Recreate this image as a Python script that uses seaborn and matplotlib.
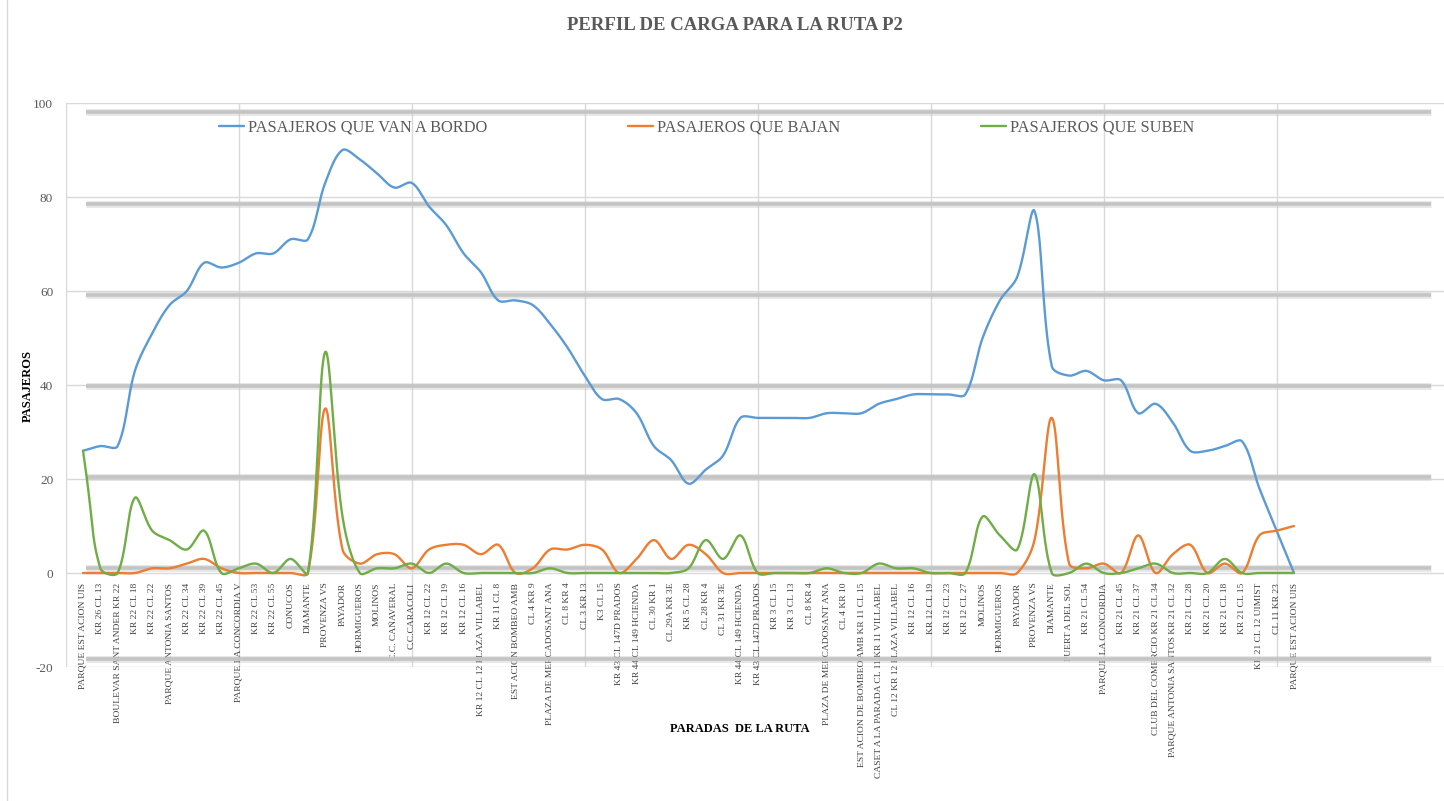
import numpy as np
import pandas as pd
import matplotlib
matplotlib.use("Agg")
import matplotlib.pyplot as plt
from matplotlib.lines import Line2D
import seaborn as sns

# Stops of route P2, in travel order
paradas = [
    "PARQUE EST ACION UIS", "KR 26 CL 13", "BOULEVAR SANT ANDER KR 22", "KR 22 CL 18",
    "KR 22 CL 22", "PARQUE ANTONIA SANTOS", "KR 22 CL 34", "KR 22 CL 39", "KR 22 CL 45",
    "PARQUE LA CONCORDIA V", "KR 22 CL 53", "KR 22 CL 55", "CONUCOS", "DIAMANTE",
    "PROVENZA VS", "PAYADOR", "HORMIGUEROS", "MOLINOS", "C.C. CAÑAVERAL", "C.C.CARACOLI",
    "KR 12 CL 22", "KR 12 CL 19", "KR 12 CL 16", "KR 12 CL 12 PLAZA VILLABEL", "KR 11 CL 8",
    "EST ACION BOMBEO AMB", "CL 4 KR 9", "PLAZA DE MERCADOSANT ANA", "CL 8 KR 4", "CL 3 KR 13",
    "K3 CL 15", "KR 43 CL 147D PRADOS", "KR 44 CL 149 HCIENDA", "CL 30 KR 1", "CL 29A KR 3E",
    "KR 5 CL 28", "CL 28 KR 4", "CL 31 KR 3E", "KR 44 CL 149 HCIENDA", "KR 43 CL 147D PRADOS",
    "KR 3 CL 15", "KR 3 CL 13", "CL 8 KR 4", "PLAZA DE MERCADOSANT ANA", "CL 4 KR 10",
    "EST ACION DE BOMBEO AMB KR 11 CL 15", "CASET A LA PARADA CL 11 KR 11 VILLABEL",
    "CL 12 KR 12 PLAZA VILLABEL", "KR 12 CL 16", "KR 12 CL 19", "KR 12 CL 23", "KR 12 CL 27",
    "MOLINOS", "HORMIGUEROS", "PAYADOR", "PROVENZA VS", "DIAMANTE", "PUERT A DEL SOL",
    "KR 21 CL 54", "PARQUE LA CONCORDIA", "KR 21 CL 45", "KR 21 CL 37",
    "CLUB DEL COMERCIO KR 21 CL 34", "PARQUE ANTONIA SANTOS KR 21 CL 32", "KR 21 CL 28",
    "KR 21 CL 20", "KR 21 CL 18", "KR 21 CL 15", "KR 21 CL 12 UIMIST", "CL 11 KR 23",
    "PARQUE EST ACION UIS",
]

# Passengers on board after each stop
a_bordo = [26, 27, 27, 43, 51, 57, 60, 66, 65, 66, 68, 68, 71, 71, 83, 90, 88, 85, 82, 83,
           78, 74, 68, 64, 58, 58, 57, 53, 48, 42, 37, 37, 34, 27, 24, 19, 22, 25, 33, 33,
           33, 33, 33, 34, 34, 34, 36, 37, 38, 38, 38, 38, 50, 58, 63, 77, 44, 42, 43, 41,
           41, 34, 36, 32, 26, 26, 27, 28, 18, 9, 0]

# Passengers getting off at each stop
bajan = [0, 0, 0, 0, 1, 1, 2, 3, 1, 0, 0, 0, 0, 0, 35, 5, 2, 4, 4, 1,
         5, 6, 6, 4, 6, 0, 1, 5, 5, 6, 5, 0, 3, 7, 3, 6, 4, 0, 0, 0,
         0, 0, 0, 0, 0, 0, 0, 0, 0, 0, 0, 0, 0, 0, 0, 7, 33, 2, 1, 2,
         0, 8, 0, 4, 6, 0, 2, 0, 8, 9, 10]

# Passengers getting on at each stop
suben = [26, 1, 0, 16, 9, 7, 5, 9, 0, 1, 2, 0, 3, 0, 47, 12, 0, 1, 1, 2,
         0, 2, 0, 0, 0, 0, 0, 1, 0, 0, 0, 0, 0, 0, 0, 1, 7, 3, 8, 0,
         0, 0, 0, 1, 0, 0, 2, 1, 1, 0, 0, 0, 12, 8, 5, 21, 0, 0, 2, 0,
         0, 1, 2, 0, 0, 0, 3, 0, 0, 0, 0]

series_names = ["PASAJEROS QUE VAN A BORDO", "PASAJEROS QUE BAJAN", "PASAJEROS QUE SUBEN"]
series_values = [a_bordo, bajan, suben]
series_colors = ["#5B9BD5", "#ED7D31", "#70AD47"]
y_ticks = [-20, 0, 20, 40, 60, 80, 100]

# drawing scale (pixels per category / per passenger) used for the smoothing
PX_PER_STOP = 17.3
PX_PER_UNIT = 4.7


def smooth_curve(values, steps=40):
    """Bezier smoothing with chord-weighted control points, computed in screen units."""
    p = np.column_stack([np.arange(len(values)) * PX_PER_STOP,
                         np.asarray(values, dtype=float) * PX_PER_UNIT])
    n = len(p)
    c_in = p.copy()
    c_out = p.copy()
    for i in range(n):
        prev = p[i - 1] if i > 0 else p[i]
        nxt = p[i + 1] if i < n - 1 else p[i]
        tan = nxt - prev
        d1 = np.hypot(*(p[i] - prev))
        d2 = np.hypot(*(nxt - p[i]))
        s = d1 + d2
        if s == 0:
            continue
        k = 2.0 if i in (0, n - 1) else 1.0
        c_in[i] = p[i] - tan * d1 / s / 3.0 * k
        c_out[i] = p[i] + tan * d2 / s / 3.0 * k
    t = np.linspace(0.0, 1.0, steps, endpoint=False)[:, None]
    pts = []
    for i in range(n - 1):
        b = ((1 - t) ** 3 * p[i] + 3 * (1 - t) ** 2 * t * c_out[i]
             + 3 * (1 - t) * t ** 2 * c_in[i + 1] + t ** 3 * p[i + 1])
        pts.append(b)
    pts.append(p[-1:])
    pts = np.vstack(pts)
    return pts[:, 0] / PX_PER_STOP, pts[:, 1] / PX_PER_UNIT


frames = []
for name, vals in zip(series_names, series_values):
    xs, ys = smooth_curve(vals)
    frames.append(pd.DataFrame({"pos": xs, "pasajeros": ys, "serie": name}))
df = pd.concat(frames, ignore_index=True)

sns.set_theme(style="white")
serif = ["Liberation Serif", "DejaVu Serif"]
plt.rcParams["font.family"] = serif

W, H = 1444, 801
fig = plt.figure(figsize=(W / 100, H / 100), dpi=100)
fig.patch.set_facecolor("white")

left_px, right_px, top_px, bot_px = 65.7, 1444, 103, 667
ax = fig.add_axes([left_px / W, 1 - bot_px / H, (right_px - left_px) / W, (bot_px - top_px) / H])
ax.set_xlim(-1, -1 + (right_px - left_px) / PX_PER_STOP)
ax.set_ylim(-20, 100)

# light grid
grid_c = "#D9D9D9"
for yv in y_ticks:
    ax.axhline(yv, color=grid_c, lw=1.0, zorder=0.5)
for xv in range(-1, len(paradas), 10):
    ax.axvline(xv, color=grid_c, lw=1.0, zorder=0.5)

# heavy grey guide bands
band_levels = np.linspace(-18.4, 98.0, 7)
ax.hlines(band_levels, 0.2, 77.9, color="#BDBDBD", lw=5, alpha=0.35, zorder=1)
ax.hlines(band_levels, 0.2, 77.9, color="#C4C4C4", lw=2.6, zorder=1.1)

sns.lineplot(data=df, x="pos", y="pasajeros", hue="serie", hue_order=series_names,
             palette=series_colors, sort=False, estimator=None, lw=1.7, ax=ax, zorder=3)

# axes styling
for s in ["top", "right", "left"]:
    ax.spines[s].set_visible(False)
ax.spines["bottom"].set_position(("data", 0))
ax.spines["bottom"].set_visible(False)

ax.set_yticks(y_ticks)
ax.set_yticklabels([str(v) for v in y_ticks], fontsize=9.5, color="#595959")
ax.tick_params(axis="y", length=6, width=1, color=grid_c, pad=3)
ax.set_xticks(range(len(paradas)))
ax.set_xticklabels(paradas, rotation=90, fontsize=6.8, color="#404040")
ax.tick_params(axis="x", length=0, pad=7)
ax.set_xlabel("")
ax.set_ylabel("")

handles, labels = ax.get_legend_handles_labels()
ax.legend(handles, labels, loc="center", bbox_to_anchor=(0.465, 0.957), ncol=3,
          frameon=False, fontsize=11.8, handlelength=1.5, handletextpad=0.25,
          columnspacing=8.6, labelcolor="#595959")

fig.text(735 / W, 1 - 25 / H, "PERFIL DE CARGA PARA LA RUTA P2", ha="center", va="center",
         fontsize=13.5, fontweight="bold", color="#595959")
fig.text(28 / W, 1 - 386 / H, "PASAJEROS", rotation=90, ha="center", va="center",
         fontsize=9, fontweight="bold", color="black")
fig.text(740 / W, 1 - 729 / H, "PARADAS  DE LA RUTA", ha="center", va="center",
         fontsize=9, fontweight="bold", color="black")

fig.add_artist(Line2D([7 / W, 7 / W], [0, 1], color=grid_c, lw=1, transform=fig.transFigure))

fig.savefig("out.png", dpi=100)
